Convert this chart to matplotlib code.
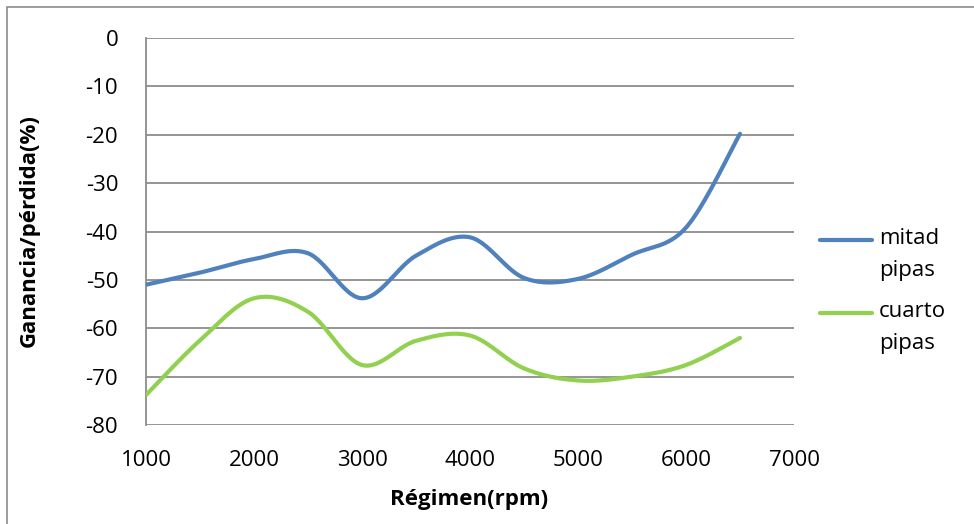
import numpy as np
import matplotlib
matplotlib.use("Agg")
import matplotlib.pyplot as plt
from matplotlib.patches import Rectangle
from matplotlib.lines import Line2D

# data
rpm = [1000, 1500, 2000, 2500, 3000, 3500, 4000, 4500, 5000, 5500, 6000, 6500]
mitad_pipas = [-51, -48.5, -45.7, -44.5, -53.8, -45, -41.2, -49.6, -49.8, -44.8, -39.2, -19.8]
cuarto_pipas = [-73.8, -62.5, -53.8, -56.6, -67.6, -62.6, -61.5, -68.3, -70.8, -70, -67.6, -62]
series_names = ["mitad\npipas", "cuarto\npipas"]

y_ticks = [0, -10, -20, -30, -40, -50, -60, -70, -80]
x_ticks = [1000, 2000, 3000, 4000, 5000, 6000, 7000]

FONT = ["Open Sans", "DejaVu Sans"]
plt.rcParams["axes.unicode_minus"] = False

W, H = 974, 524


def smooth(x, y, n=30):
    # excel-like smoothed line (catmull-rom bezier through each point)
    x = np.asarray(x, float)
    y = np.asarray(y, float)
    px = np.concatenate([[x[0]], x, [x[-1]]])
    py = np.concatenate([[y[0]], y, [y[-1]]])
    xs, ys = [], []
    t = np.linspace(0, 1, n)
    for i in range(1, len(px) - 2):
        p0 = np.array([px[i], py[i]])
        p3 = np.array([px[i + 1], py[i + 1]])
        p1 = p0 + (np.array([px[i + 1], py[i + 1]]) - np.array([px[i - 1], py[i - 1]])) / 6
        p2 = p3 - (np.array([px[i + 2], py[i + 2]]) - np.array([px[i], py[i]])) / 6
        b = ((1 - t) ** 3)[:, None] * p0 + (3 * (1 - t) ** 2 * t)[:, None] * p1 \
            + (3 * (1 - t) * t ** 2)[:, None] * p2 + (t ** 3)[:, None] * p3
        xs.extend(b[:, 0])
        ys.extend(b[:, 1])
    return xs, ys


fig = plt.figure(figsize=(W / 100, H / 100), dpi=100)
ax = fig.add_axes([146 / W, 1 - 425 / H, (794 - 146) / W, (425 - 38) / H])

# chart border (right/bottom fall outside the picture)
fig.patches.append(Rectangle((7 / W, -0.5), 2, 1.5 - 7 / H, transform=fig.transFigure,
                             fill=False, edgecolor="#8c8c8c", linewidth=1.2))

grid_c = "#8c8c8c"
for v in y_ticks:
    ax.axhline(v, color=grid_c, linewidth=1.3, zorder=1)

colors = ["#4F81BD", "#92D050"]
for vals, c in zip([mitad_pipas, cuarto_pipas], colors):
    sx, sy = smooth(rpm, vals)
    ax.plot(sx, sy, color=c, linewidth=3, solid_capstyle="round", zorder=3)

ax.set_xlim(1000, 7000)
ax.set_ylim(-80, 0)
ax.set_xticks(x_ticks)
ax.set_yticks(y_ticks)
ax.tick_params(axis="y", length=0, labelsize=16, pad=20)
ax.tick_params(axis="x", length=0, labelsize=16, pad=18)
for lab in ax.get_xticklabels() + ax.get_yticklabels():
    lab.set_family(FONT)

for s in ["top", "right", "bottom"]:
    ax.spines[s].set_visible(False)
ax.spines["left"].set_color(grid_c)
ax.spines["left"].set_linewidth(1.3)

fig.text(469 / W, 1 - 500 / H, "Régimen(rpm)", fontsize=16, fontweight="bold",
         family=FONT, ha="center", va="center")
fig.text(29 / W, 1 - 231 / H, "Ganancia/pérdida(%)", fontsize=16, fontweight="bold",
         family=FONT, ha="center", va="center", rotation=90)

# legend, drawn like excel's: key on the first line of each label
for name, c, yk in zip(series_names, colors, [240, 313]):
    fig.add_artist(Line2D([820 / W, 872 / W], [1 - yk / H, 1 - yk / H], color=c,
                          linewidth=3, solid_capstyle="round"))
    fig.text(879 / W, 1 - (yk - 12) / H, name, fontsize=16, family=FONT,
             ha="left", va="top", linespacing=1.7)

fig.savefig("out.png", dpi=100)
